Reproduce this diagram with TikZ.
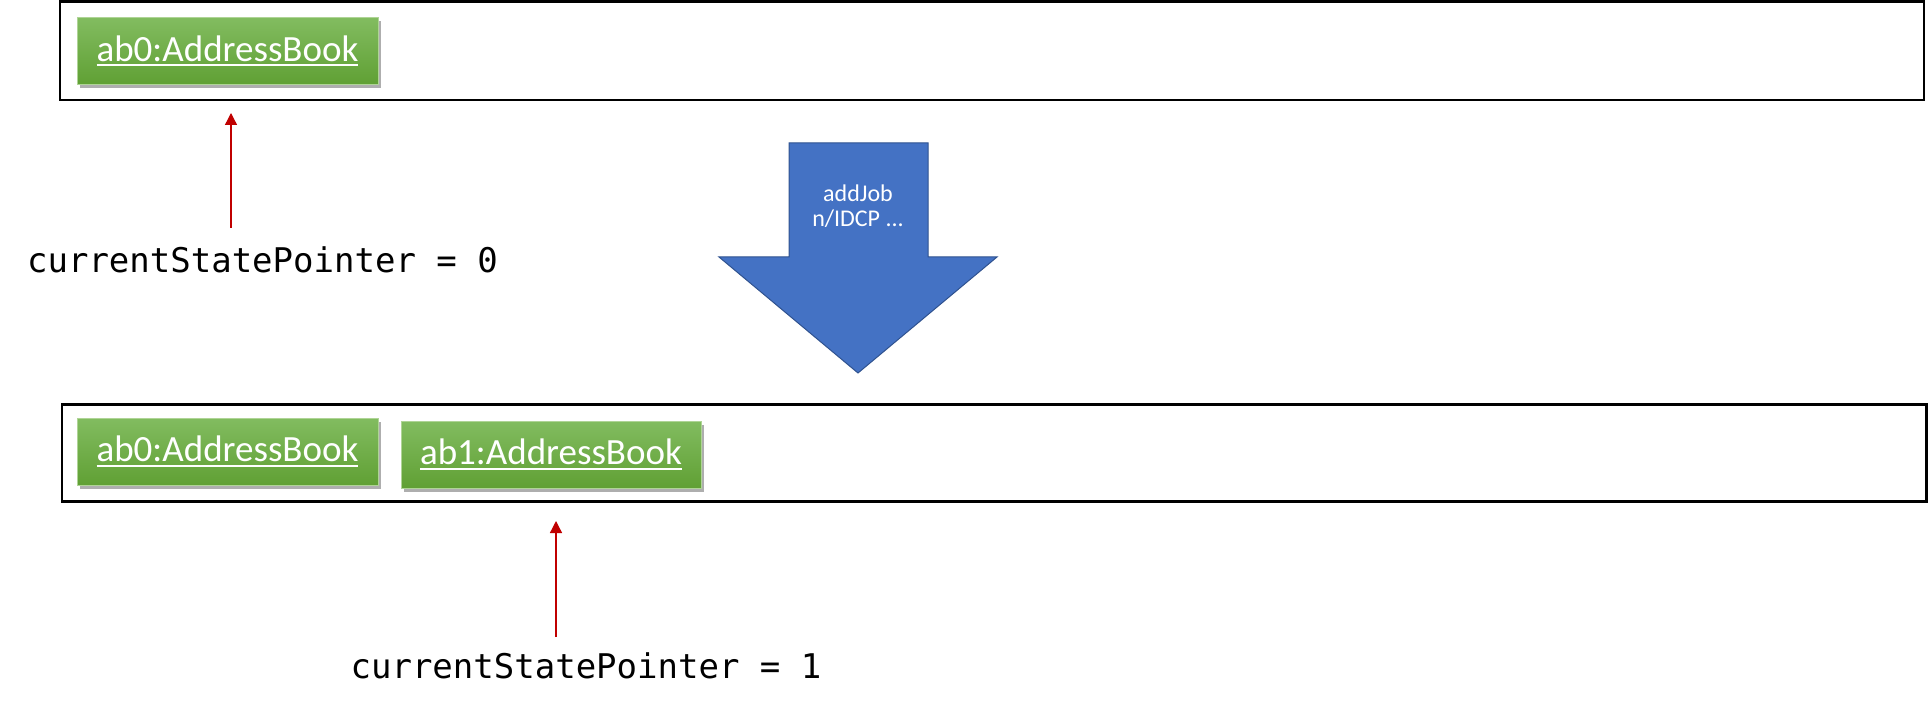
\documentclass[tikz,border=0pt]{standalone}
\usepackage{fontspec}
\setmainfont{Carlito}
\newfontfamily\monofont{DejaVu Sans Mono}
\usetikzlibrary{shadows,arrows.meta}
\definecolor{gTop}{RGB}{130,188,96}
\definecolor{gBot}{RGB}{96,160,52}
\definecolor{gEdge}{RGB}{175,212,150}
\definecolor{bFill}{RGB}{68,114,196}
\definecolor{bEdge}{RGB}{47,82,143}
\definecolor{pRed}{RGB}{192,0,0}
\newcommand\ulword[1]{\setbox0\hbox{#1}\rlap{\rule[-5pt]{\wd0}{2pt}}\box0}
\begin{document}
\begin{tikzpicture}[x=1pt,y=-1pt,
  frame/.style={draw=black,line width=2.5pt},
  obj/.style={top color=gTop,bottom color=gBot,draw=gEdge,line width=0.8pt,
    text=white,font=\fontsize{37}{44}\selectfont,inner sep=0pt,
    minimum width=301pt,minimum height=67pt,
    drop shadow={shadow xshift=3pt,shadow yshift=-4pt,opacity=0.45,fill=black!70}},
  ptrtext/.style={font=\monofont\fontsize{34}{40}\selectfont,inner sep=0pt},
  ptr/.style={draw=pRed,line width=1.3pt,-{Triangle[width=12pt,length=12pt]}},
  cmdarrow/.style={fill=bFill,draw=bEdge,line width=1pt,line join=miter},
  cmdtext/.style={text=white,font=\fontsize{24}{25.5}\selectfont,align=center,inner sep=0pt}]
\useasboundingbox (0,0) rectangle (1929,711);

% top state
\draw[frame] (60,1.5) rectangle (1924,100);
\node[obj] (ab0a) at (227.5,51) {\ulword{ab0:AddressBook}};
\node[ptrtext] (csp0) at (262.5,260) {currentStatePointer = 0};
\coordinate (p0s) at (231,228);
\coordinate (p0e) at (231,113);
\draw[ptr] (p0s) -- (p0e);

% command arrow
\draw[cmdarrow] (789,143) -- (928,143) -- (928,257) -- (997,257) -- (858,373)
  -- (719,257) -- (789,257) -- cycle;
\node[cmdtext] (cmd) at (858,206) {addJob\\n/IDCP ...};

% bottom state
\draw[frame] (62,404.5) rectangle (1926.5,501.5);
\node[obj] (ab0b) at (227.5,451.5) {\ulword{ab0:AddressBook}};
\node[obj,minimum width=300pt] (ab1b) at (551,454.5) {\ulword{ab1:AddressBook}};
\node[ptrtext] (csp1) at (586,666) {currentStatePointer = 1};
\coordinate (p1s) at (556,637);
\coordinate (p1e) at (556,521);
\draw[ptr] (p1s) -- (p1e);
\end{tikzpicture}
\end{document}
